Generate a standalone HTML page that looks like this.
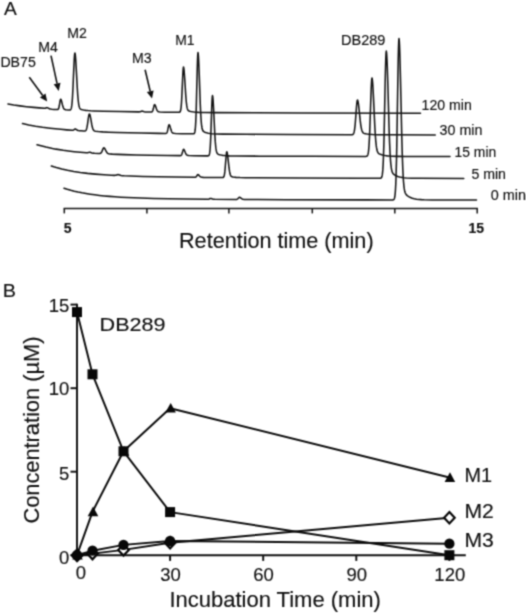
<!DOCTYPE html>
<html><head><meta charset="utf-8"><title>Figure</title>
<style>
html,body{margin:0;padding:0;background:#fff;}
body{width:526px;height:614px;overflow:hidden;font-family:"Liberation Sans",sans-serif;}
svg{display:block;font-family:"Liberation Sans",sans-serif;}
</style></head><body>
<svg width="526" height="614" viewBox="0 0 526 614">
<defs><filter id="soft" x="0" y="0" width="526" height="614" filterUnits="userSpaceOnUse" color-interpolation-filters="sRGB"><feConvolveMatrix order="3" kernelMatrix="0.04084 0.12041 0.04084 0.12041 0.35503 0.12041 0.04084 0.12041 0.04084" edgeMode="duplicate" preserveAlpha="true"/></filter></defs>
<rect width="526" height="614" fill="#fff"/>
<g filter="url(#soft)">
<rect width="526" height="614" fill="#fff"/>
<g fill="none" stroke="#141414" stroke-width="1.55" stroke-linejoin="round" stroke-linecap="round">
<polyline points="64.00,188.20 67.25,189.24 70.75,190.25 74.25,191.16 78.00,192.02 82.00,192.84 86.00,193.56 90.25,194.23 94.75,194.85 99.50,195.42 104.25,195.92 109.50,196.39 115.00,196.81 120.75,197.19 127.00,197.53 140.50,198.10 153.75,198.50 168.75,198.82 186.50,199.08 207.00,199.29 208.00,199.27 208.75,199.14 209.25,198.95 210.00,198.56 210.50,198.42 211.25,198.52 212.50,198.96 213.25,199.16 214.00,199.27 214.75,199.31 235.50,199.48 236.50,199.42 237.00,199.29 237.25,199.17 237.75,198.81 239.00,197.51 239.25,197.36 239.50,197.31 239.75,197.35 240.25,197.57 241.75,198.70 242.25,199.00 242.75,199.20 243.25,199.33 244.00,199.42 246.50,199.50 257.75,199.60 285.75,199.70 365.75,199.89 392.00,199.92 393.00,199.87 393.50,199.73 393.75,199.57 394.00,199.30 394.25,198.85 394.50,198.13 394.75,197.01 395.00,195.32 395.25,192.84 395.50,189.32 395.75,184.50 396.00,178.09 396.50,159.70 396.75,147.55 398.00,70.75 398.25,57.56 398.50,47.32 398.75,40.82 399.00,38.60 399.25,40.62 399.50,44.87 399.75,51.19 400.00,59.31 400.50,79.58 401.75,135.67 402.25,153.81 402.75,167.80 403.25,177.79 403.50,181.49 404.00,186.83 404.25,188.70 404.50,190.16 404.75,191.30 405.00,192.19 405.50,193.45 405.75,193.91 406.25,194.62 406.75,195.16 407.25,195.60 408.00,196.17 408.75,196.65 409.50,197.07 410.50,197.55 412.25,198.21 414.25,198.74 416.50,199.15 419.00,199.44 421.50,199.63 424.25,199.76 432.00,199.92 443.75,199.97 476.50,200.00"/>
<polyline points="51.30,166.00 53.80,166.83 56.30,167.59 59.05,168.36 61.80,169.07 67.55,170.35 73.80,171.50 80.30,172.48 87.55,173.36 95.30,174.12 104.05,174.79 111.30,175.24 114.55,175.38 115.30,175.33 115.80,175.24 117.30,174.73 118.05,174.59 118.80,174.68 121.05,175.45 122.30,175.69 124.30,175.83 130.30,176.07 142.80,176.45 157.80,176.80 175.30,177.10 194.30,177.34 195.30,177.26 195.80,177.05 196.05,176.86 196.55,176.25 197.30,175.05 197.55,174.76 197.80,174.61 198.05,174.63 198.30,174.73 198.55,174.90 199.80,176.23 200.55,176.85 201.05,177.09 201.80,177.26 203.30,177.36 207.80,177.46 222.55,177.58 223.05,177.49 223.30,177.36 223.55,177.14 223.80,176.76 224.05,176.14 224.30,175.19 224.55,173.81 224.80,171.93 225.05,169.51 226.05,156.74 226.30,154.13 226.55,152.40 226.80,151.80 227.05,152.24 227.30,153.25 227.55,154.77 228.05,158.89 229.05,167.98 229.55,171.44 230.05,173.83 230.30,174.67 230.55,175.30 230.80,175.78 231.05,176.13 231.30,176.38 231.80,176.70 232.30,176.88 233.05,177.04 236.05,177.38 240.05,177.60 245.30,177.73 253.80,177.82 299.55,178.05 357.30,178.23 379.30,178.28 380.30,178.24 380.80,178.13 381.05,178.00 381.30,177.79 381.55,177.44 381.80,176.87 382.05,175.98 382.30,174.65 382.55,172.69 382.80,169.92 383.05,166.11 383.30,161.06 383.80,146.55 384.05,136.96 385.30,76.36 385.55,65.96 385.80,57.88 386.05,52.76 386.30,51.00 386.55,52.60 386.80,55.95 387.05,60.93 387.30,67.34 387.80,83.34 389.05,127.59 389.55,141.91 390.05,152.95 390.55,160.83 390.80,163.75 391.30,167.96 391.55,169.43 392.05,171.48 392.30,172.19 392.80,173.19 393.05,173.55 393.55,174.11 394.55,174.88 396.05,175.71 397.80,176.42 399.55,176.94 401.55,177.36 403.80,177.69 406.30,177.92 411.55,178.18 419.30,178.31 463.80,178.40"/>
<polyline points="37.00,144.70 40.00,145.57 43.00,146.37 46.00,147.11 49.25,147.83 52.50,148.50 56.00,149.14 63.25,150.30 68.50,151.00 74.25,151.66 80.25,152.24 86.25,152.74 87.25,152.78 87.75,152.74 88.25,152.61 89.25,152.24 89.75,152.20 90.50,152.37 92.00,152.92 93.00,153.14 94.50,153.29 98.50,153.54 99.50,153.56 100.00,153.50 100.50,153.34 101.00,152.98 101.50,152.32 101.75,151.87 103.00,148.88 103.25,148.38 103.50,148.02 103.75,147.82 104.00,147.82 104.25,147.97 104.50,148.22 104.75,148.57 105.25,149.49 106.25,151.52 107.00,152.68 107.25,152.96 107.75,153.38 108.50,153.73 109.00,153.85 109.75,153.95 112.25,154.13 117.50,154.38 124.25,154.62 136.25,154.95 150.00,155.23 167.50,155.50 180.25,155.63 180.75,155.54 181.00,155.44 181.25,155.26 181.50,154.96 181.75,154.51 182.25,153.10 183.00,150.35 183.25,149.68 183.50,149.33 183.75,149.36 184.00,149.59 184.25,149.99 184.50,150.51 185.50,153.02 186.00,154.04 186.25,154.42 186.75,154.97 187.00,155.14 187.50,155.36 188.00,155.47 189.00,155.57 193.50,155.72 206.75,155.88 207.75,155.88 208.25,155.83 208.50,155.75 208.75,155.60 209.00,155.31 209.25,154.79 209.50,153.89 209.75,152.44 210.00,150.23 210.25,147.01 210.50,142.61 210.75,136.96 211.75,107.15 212.00,101.04 212.25,97.01 212.50,95.60 212.75,96.63 213.00,98.99 213.25,102.53 213.75,112.14 214.75,133.35 215.25,141.41 215.75,146.99 216.00,148.93 216.25,150.42 216.50,151.52 216.75,152.34 217.00,152.93 217.25,153.36 217.50,153.67 218.00,154.08 218.75,154.44 219.75,154.76 221.25,155.11 223.00,155.40 224.75,155.60 226.75,155.76 229.25,155.88 235.75,156.02 259.75,156.16 311.75,156.32 364.50,156.42 365.75,156.41 366.50,156.33 367.00,156.12 367.25,155.90 367.50,155.55 367.75,155.00 368.00,154.18 368.25,152.98 368.50,151.27 368.75,148.92 369.00,145.81 369.50,136.87 369.75,130.96 371.00,93.63 371.25,87.21 371.50,82.24 371.75,79.08 372.00,78.00 372.25,78.98 372.50,81.05 372.75,84.12 373.00,88.07 373.50,97.92 374.75,125.19 375.25,134.01 375.75,140.81 376.25,145.67 376.50,147.47 377.00,150.06 377.25,150.97 377.75,152.23 378.00,152.67 378.50,153.28 379.25,153.85 380.25,154.33 381.75,154.84 383.50,155.28 385.25,155.60 387.25,155.86 389.50,156.06 392.25,156.21 397.50,156.37 405.25,156.44 450.00,156.50"/>
<polyline points="22.50,123.60 28.75,124.94 35.50,126.17 42.50,127.25 50.00,128.22 55.25,128.81 60.75,129.35 66.75,129.88 72.00,130.27 72.75,130.26 73.25,130.15 73.75,129.88 74.75,129.12 75.00,129.02 75.25,129.01 75.50,129.07 76.00,129.29 77.50,130.22 78.00,130.43 78.50,130.57 79.50,130.72 81.00,130.84 83.75,131.02 84.75,131.01 85.25,130.89 85.50,130.76 85.75,130.56 86.00,130.24 86.25,129.78 86.50,129.14 86.75,128.29 87.00,127.20 87.50,124.29 88.25,118.83 88.75,115.64 89.00,114.57 89.25,113.99 89.50,113.96 89.75,114.35 90.00,115.07 90.25,116.07 90.75,118.67 91.75,124.46 92.25,126.80 92.75,128.54 93.25,129.70 93.75,130.42 94.00,130.65 94.50,130.96 95.00,131.14 95.50,131.25 98.25,131.56 102.75,131.87 108.75,132.15 117.00,132.44 128.50,132.77 141.25,133.06 158.75,133.39 165.75,133.47 166.25,133.36 166.50,133.21 166.75,132.96 167.00,132.54 167.25,131.93 167.75,129.97 168.50,126.15 168.75,125.22 169.00,124.74 169.25,124.78 169.50,125.11 169.75,125.66 170.00,126.38 171.00,129.86 171.50,131.27 171.75,131.81 172.00,132.23 172.50,132.80 172.75,132.98 173.25,133.20 174.00,133.34 175.50,133.46 181.50,133.68 192.75,133.85 193.50,133.82 194.00,133.67 194.25,133.47 194.50,133.08 194.75,132.37 195.00,131.17 195.25,129.22 195.50,126.23 195.75,121.89 196.00,115.97 196.25,108.34 197.25,68.17 197.50,59.93 197.75,54.50 198.00,52.60 198.25,53.99 198.50,57.17 198.75,61.94 199.25,74.90 200.25,103.48 200.75,114.36 201.25,121.87 201.50,124.49 201.75,126.49 202.00,127.99 202.25,129.08 202.50,129.88 202.75,130.46 203.00,130.88 203.50,131.43 204.25,131.92 205.50,132.45 206.75,132.83 208.25,133.18 210.00,133.46 211.75,133.66 216.25,133.94 223.00,134.11 246.50,134.31 289.25,134.53 350.00,134.74 351.50,134.73 352.25,134.67 352.75,134.52 353.00,134.36 353.25,134.12 353.50,133.76 353.75,133.22 354.00,132.47 354.25,131.43 354.50,130.05 355.00,126.09 355.25,123.47 356.50,106.92 356.75,104.08 357.00,101.88 357.25,100.48 357.50,100.00 357.75,100.44 358.00,101.35 358.25,102.71 358.50,104.46 359.00,108.83 360.25,120.92 360.75,124.83 361.25,127.85 361.75,130.00 362.00,130.80 362.50,131.95 362.75,132.35 363.25,132.91 363.50,133.10 364.00,133.38 364.75,133.63 365.75,133.85 367.25,134.07 369.00,134.27 372.75,134.53 377.75,134.70 391.25,134.82 435.25,134.90"/>
<polyline points="8.00,104.00 13.75,104.97 20.00,105.87 26.50,106.66 33.50,107.37 39.25,107.87 44.25,108.24 44.75,108.23 45.25,108.15 46.50,107.68 47.00,107.63 47.75,107.86 49.50,108.73 50.00,108.91 50.75,109.09 52.00,109.26 53.75,109.40 56.75,109.59 57.50,109.57 57.75,109.51 58.00,109.38 58.25,109.15 58.50,108.74 58.75,108.12 59.00,107.21 59.25,106.02 60.00,101.47 60.25,100.20 60.50,99.40 60.75,99.22 61.00,99.51 61.25,100.07 61.50,100.87 62.50,105.04 63.00,106.84 63.50,108.12 64.00,108.90 64.25,109.15 64.75,109.46 65.25,109.63 66.00,109.76 68.25,109.99 69.50,110.05 70.00,109.99 70.25,109.91 70.50,109.74 70.75,109.46 71.00,109.00 71.25,108.28 71.50,107.21 71.75,105.66 72.00,103.52 72.25,100.68 72.50,97.06 73.00,87.43 73.75,69.36 74.25,58.81 74.50,55.25 74.75,53.29 75.00,53.17 75.25,54.44 75.50,56.76 75.75,60.00 76.25,68.50 77.25,87.44 77.75,95.11 78.25,100.76 78.75,104.53 79.00,105.82 79.25,106.82 79.50,107.56 79.75,108.11 80.00,108.52 80.25,108.83 80.75,109.22 81.50,109.55 82.50,109.83 83.75,110.08 85.75,110.37 88.00,110.60 90.50,110.78 93.75,110.94 103.50,111.25 119.50,111.58 139.00,111.89 139.75,111.84 140.25,111.74 141.50,111.22 142.00,111.14 142.75,111.26 144.25,111.72 145.25,111.90 147.00,111.98 151.25,112.02 151.75,111.93 152.00,111.80 152.25,111.59 152.50,111.24 152.75,110.71 153.25,109.06 154.00,105.82 154.25,105.04 154.50,104.63 154.75,104.66 155.00,104.94 155.25,105.41 155.50,106.02 156.50,108.96 157.00,110.16 157.25,110.61 157.75,111.25 158.00,111.46 158.50,111.72 159.00,111.85 160.00,111.96 164.75,112.15 178.00,112.34 179.00,112.32 179.50,112.24 179.75,112.13 180.00,111.91 180.25,111.52 180.50,110.85 180.75,109.76 181.00,108.09 181.25,105.67 181.50,102.37 181.75,98.11 182.75,75.69 183.00,71.09 183.25,68.06 183.50,67.00 183.75,67.77 184.00,69.55 184.25,72.22 184.75,79.45 185.75,95.41 186.25,101.48 186.75,105.68 187.00,107.14 187.25,108.26 187.50,109.09 187.75,109.71 188.00,110.15 188.50,110.71 189.00,111.02 189.75,111.30 191.00,111.59 192.50,111.85 194.25,112.06 196.25,112.22 198.75,112.36 205.00,112.52 216.00,112.62 255.00,112.83 301.75,113.00 420.50,113.20"/>
</g>
<g stroke="#141414" stroke-width="1.5" fill="none">
<path d="M63.6,208.5 H477.9"/>
<path d="M64.3,208.5 V213.4"/>
<path d="M146.9,208.5 V213.4"/>
<path d="M228.9,208.5 V213.4"/>
<path d="M312.3,208.5 V213.4"/>
<path d="M394.8,208.5 V213.4"/>
<path d="M477.2,208.5 V213.4"/>
</g>
<text x="4.0" y="15.3" font-size="18.0" text-anchor="start" font-weight="normal" fill="#111" stroke="#111" stroke-width="0.15" textLength="12.8" lengthAdjust="spacingAndGlyphs">A</text>
<text x="2.7" y="297.2" font-size="18.3" text-anchor="start" font-weight="normal" fill="#111" stroke="#111" stroke-width="0.15" textLength="13.2" lengthAdjust="spacingAndGlyphs">B</text>
<text x="490.8" y="200.4" font-size="14.0" text-anchor="start" font-weight="normal" fill="#111" stroke="#111" stroke-width="0.15" textLength="35.2" lengthAdjust="spacingAndGlyphs">0 min</text>
<text x="471.4" y="178.8" font-size="14.0" text-anchor="start" font-weight="normal" fill="#111" stroke="#111" stroke-width="0.15" textLength="34.6" lengthAdjust="spacingAndGlyphs">5 min</text>
<text x="454.6" y="156.8" font-size="14.0" text-anchor="start" font-weight="normal" fill="#111" stroke="#111" stroke-width="0.15" textLength="41.6" lengthAdjust="spacingAndGlyphs">15 min</text>
<text x="439.6" y="135.0" font-size="14.0" text-anchor="start" font-weight="normal" fill="#111" stroke="#111" stroke-width="0.15" textLength="42.8" lengthAdjust="spacingAndGlyphs">30 min</text>
<text x="421.6" y="110.1" font-size="14.0" text-anchor="start" font-weight="normal" fill="#111" stroke="#111" stroke-width="0.15" textLength="50.2" lengthAdjust="spacingAndGlyphs">120 min</text>
<text x="0.4" y="66.7" font-size="14.0" text-anchor="start" font-weight="normal" fill="#111" stroke="#111" stroke-width="0.15" textLength="35.4" lengthAdjust="spacingAndGlyphs">DB75</text>
<text x="38.2" y="52.0" font-size="14.0" text-anchor="start" font-weight="normal" fill="#111" stroke="#111" stroke-width="0.15" textLength="19.6" lengthAdjust="spacingAndGlyphs">M4</text>
<text x="67.3" y="38.2" font-size="14.0" text-anchor="start" font-weight="normal" fill="#111" stroke="#111" stroke-width="0.15" textLength="19.6" lengthAdjust="spacingAndGlyphs">M2</text>
<text x="132.1" y="62.6" font-size="14.0" text-anchor="start" font-weight="normal" fill="#111" stroke="#111" stroke-width="0.15" textLength="19.6" lengthAdjust="spacingAndGlyphs">M3</text>
<text x="175.2" y="44.9" font-size="14.0" text-anchor="start" font-weight="normal" fill="#111" stroke="#111" stroke-width="0.15" textLength="19.3" lengthAdjust="spacingAndGlyphs">M1</text>
<text x="341.0" y="45.2" font-size="14.0" text-anchor="start" font-weight="normal" fill="#111" stroke="#111" stroke-width="0.15" textLength="44.4" lengthAdjust="spacingAndGlyphs">DB289</text>
<path d="M29.3,77.2 L42.7,95.5" stroke="#111" stroke-width="1.6" fill="none"/>
<path d="M47.2,101.6 L39.9,97.5 L45.5,93.4 Z" fill="#111"/>
<path d="M51.0,55.7 L57.1,83.6" stroke="#111" stroke-width="1.6" fill="none"/>
<path d="M58.7,91.0 L53.7,84.3 L60.5,82.8 Z" fill="#111"/>
<path d="M145.1,69.7 L150.2,91.2" stroke="#111" stroke-width="1.6" fill="none"/>
<path d="M152.0,98.6 L146.8,92.0 L153.6,90.4 Z" fill="#111"/>
<text x="63.8" y="233.2" font-size="14.0" text-anchor="start" font-weight="bold" fill="#111" stroke="#111" stroke-width="0.15">5</text>
<text x="468.4" y="233.1" font-size="14.0" text-anchor="start" font-weight="bold" fill="#111" stroke="#111" stroke-width="0.15" textLength="15.6" lengthAdjust="spacingAndGlyphs">15</text>
<text x="179.0" y="248.2" font-size="22.0" text-anchor="start" font-weight="normal" fill="#111" stroke="#111" stroke-width="0.15" textLength="194.6" lengthAdjust="spacingAndGlyphs">Retention time (min)</text>
<g stroke="#111" stroke-width="1.95" fill="none" stroke-linejoin="round">
<path d="M77.0,303.7 V555.2 H465.8"/>
<path d="M70.5,555.2 H77.0"/>
<path d="M70.5,471.7 H77.0"/>
<path d="M70.5,388.2 H77.0"/>
<path d="M70.5,304.6 H77.0"/>
<path d="M77.0,555.2 V560.9"/>
<path d="M170.1,555.2 V560.9"/>
<path d="M263.2,555.2 V560.9"/>
<path d="M356.3,555.2 V560.9"/>
<path d="M449.4,555.2 V560.9"/>
</g>
<g stroke="#0c0c0c" stroke-width="1.95" fill="none" stroke-linejoin="round">
<polyline points="77.0,312.1 92.5,374.3 123.5,451.3 170.1,512.1 449.4,555.2"/>
<polyline points="77.0,555.2 92.5,511.8 123.5,451.3 170.1,408.2 449.4,477.5"/>
<polyline points="77.0,555.2 92.5,553.6 123.5,549.9 170.1,542.7 449.4,517.8"/>
<polyline points="77.0,555.2 92.5,550.7 123.5,544.9 170.1,541.0 449.4,543.7"/>
</g>
<path d="M77.0,549.5 L82.3,555.2 L77.0,561.0 L71.7,555.2 Z" fill="#fff" stroke="#080808" stroke-width="2.2"/>
<path d="M92.5,547.9 L97.8,553.6 L92.5,559.3 L87.2,553.6 Z" fill="#fff" stroke="#080808" stroke-width="2.2"/>
<path d="M123.5,544.2 L128.8,549.9 L123.5,555.6 L118.2,549.9 Z" fill="#fff" stroke="#080808" stroke-width="2.2"/>
<path d="M170.1,537.0 L175.4,542.7 L170.1,548.4 L164.8,542.7 Z" fill="#fff" stroke="#080808" stroke-width="2.2"/>
<path d="M449.4,512.1 L454.7,517.8 L449.4,523.5 L444.1,517.8 Z" fill="#fff" stroke="#080808" stroke-width="2.2"/>
<circle cx="77.0" cy="555.2" r="5.15" fill="#080808"/>
<circle cx="92.5" cy="550.7" r="5.15" fill="#080808"/>
<circle cx="123.5" cy="544.9" r="5.15" fill="#080808"/>
<circle cx="170.1" cy="541.0" r="5.15" fill="#080808"/>
<circle cx="449.4" cy="543.7" r="5.15" fill="#080808"/>
<path d="M77.6,550.0 L82.8,559.6 L72.2,559.6 Z" fill="#080808"/>
<path d="M93.1,506.6 L98.3,516.2 L87.7,516.2 Z" fill="#080808"/>
<path d="M124.1,446.1 L129.3,455.7 L118.8,455.7 Z" fill="#080808"/>
<path d="M170.7,403.0 L175.9,412.6 L165.3,412.6 Z" fill="#080808"/>
<path d="M450.0,472.3 L455.2,481.9 L444.6,481.9 Z" fill="#080808"/>
<rect x="72.0" y="307.1" width="10" height="10" fill="#080808"/>
<rect x="87.5" y="369.3" width="10" height="10" fill="#080808"/>
<rect x="118.5" y="446.3" width="10" height="10" fill="#080808"/>
<rect x="165.1" y="507.1" width="10" height="10" fill="#080808"/>
<rect x="444.4" y="550.2" width="10" height="10" fill="#080808"/>
<path d="M77.6,548.9 L84.0,555.5 L77.6,562.1 L71.2,555.5 Z" fill="#080808"/>
<text x="69.4" y="311.5" font-size="18.5" text-anchor="end" font-weight="normal" fill="#111" stroke="#111" stroke-width="0.15">15</text>
<text x="69.4" y="395.0" font-size="18.5" text-anchor="end" font-weight="normal" fill="#111" stroke="#111" stroke-width="0.15">10</text>
<text x="69.4" y="479.8" font-size="18.5" text-anchor="end" font-weight="normal" fill="#111" stroke="#111" stroke-width="0.15">5</text>
<text x="69.4" y="564.0" font-size="18.5" text-anchor="end" font-weight="normal" fill="#111" stroke="#111" stroke-width="0.15">0</text>
<text x="80.8" y="579.2" font-size="18.5" text-anchor="middle" font-weight="normal" fill="#111" stroke="#111" stroke-width="0.15">0</text>
<text x="170.5" y="580.7" font-size="18.5" text-anchor="middle" font-weight="normal" fill="#111" stroke="#111" stroke-width="0.15">30</text>
<text x="263.6" y="580.7" font-size="18.5" text-anchor="middle" font-weight="normal" fill="#111" stroke="#111" stroke-width="0.15">60</text>
<text x="356.7" y="580.7" font-size="18.5" text-anchor="middle" font-weight="normal" fill="#111" stroke="#111" stroke-width="0.15">90</text>
<text x="449.8" y="580.7" font-size="18.5" text-anchor="middle" font-weight="normal" fill="#111" stroke="#111" stroke-width="0.15">120</text>
<text x="99.6" y="330.9" font-size="19.0" text-anchor="start" font-weight="normal" fill="#111" stroke="#111" stroke-width="0.15" textLength="66.0" lengthAdjust="spacingAndGlyphs">DB289</text>
<text x="464.4" y="481.5" font-size="20.5" text-anchor="start" font-weight="normal" fill="#111" stroke="#111" stroke-width="0.15" textLength="27.6" lengthAdjust="spacingAndGlyphs">M1</text>
<text x="464.4" y="517.9" font-size="20.5" text-anchor="start" font-weight="normal" fill="#111" stroke="#111" stroke-width="0.15" textLength="29.4" lengthAdjust="spacingAndGlyphs">M2</text>
<text x="464.4" y="546.5" font-size="20.5" text-anchor="start" font-weight="normal" fill="#111" stroke="#111" stroke-width="0.15" textLength="29.4" lengthAdjust="spacingAndGlyphs">M3</text>
<text x="169.4" y="607.4" font-size="22.0" text-anchor="start" font-weight="normal" fill="#111" stroke="#111" stroke-width="0.15" textLength="211.5" lengthAdjust="spacingAndGlyphs">Incubation Time (min)</text>
<text transform="translate(38.7,523.6) rotate(-90)" font-size="22" fill="#111" textLength="187" lengthAdjust="spacingAndGlyphs" stroke="#111" stroke-width="0.15">Concentration (µM)</text>
</g>
</svg>
</body></html>
